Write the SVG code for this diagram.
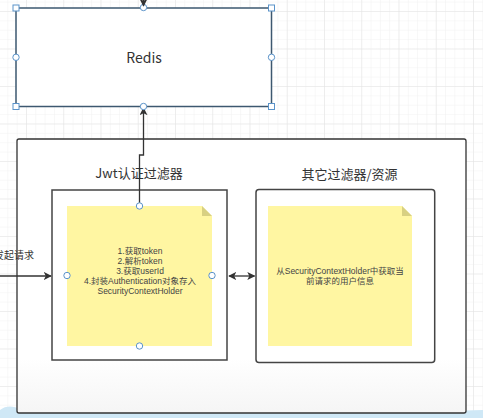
<svg xmlns="http://www.w3.org/2000/svg" width="483" height="418" viewBox="0 0 483 418">
<defs>
<pattern id="minor" x="-11.25" y="11" width="9.3125" height="9.375" patternUnits="userSpaceOnUse">
<path d="M0,0 V9.375 M0,0 H9.3125" stroke="#f1f1f1" stroke-width="1" fill="none"/>
</pattern>
<pattern id="major" x="-11.25" y="11" width="37.25" height="37.5" patternUnits="userSpaceOnUse">
<path d="M0,0 V37.5 M0,0 H37.25" stroke="#e3e3e3" stroke-width="1" fill="none"/>
</pattern>
<marker id="ah" viewBox="0 0 10 10" refX="9" refY="5" markerWidth="8" markerHeight="8" markerUnits="userSpaceOnUse" orient="auto-start-reverse">
<path d="M0,0 L10,5 L0,10 L2.5,5 Z" fill="#333"/>
</marker>
<linearGradient id="shade" x1="0" y1="0" x2="0" y2="1">
<stop offset="0" stop-color="#ffffff"/>
<stop offset="0.8" stop-color="#ffffff"/>
<stop offset="1" stop-color="#f5f5f5"/>
</linearGradient>
</defs>
<style>
.t{font-family:"Noto Sans CJK SC","Noto Sans",sans-serif;fill:#333;text-anchor:middle}
.title{font-size:13px}
.note{font-size:8.5px;fill:#444;font-family:"Liberation Sans","Noto Sans CJK SC",sans-serif}
.box{fill:#fff;stroke:#444;stroke-width:1.5}
.noteb{fill:#fff6a2}
.fold{fill:#d8d082}
.h{fill:#fff;stroke:#5b93c9;stroke-width:1}
.c{stroke:#333;stroke-width:1.3;fill:none}
</style>
<rect width="483" height="418" fill="#fff"/>
<rect width="483" height="418" fill="url(#minor)"/>
<rect width="483" height="418" fill="url(#major)"/>
<path d="M0,418 L0,410 C6,405 14,406 20,409 C40,410 70,412 95,410 C105,404 120,402 130,409 C160,412 190,411 205,410 C225,406 250,407 270,411 C300,412 320,411 335,410 C345,404 365,403 378,410 C410,412 440,411 483,410 L483,418 Z" fill="#cfe8f6"/>
<g id="outer">
<rect x="17" y="139" width="449" height="274" rx="2" fill="url(#shade)" stroke="#333" stroke-width="1.3"/>
</g>
<g id="redis">
<rect x="16" y="8" width="255.5" height="98.5" fill="#fff" stroke="#3d5870" stroke-width="1.5"/>
<text class="t" x="144" y="63" font-size="14" font-family="'Noto Sans','Liberation Sans',sans-serif">Redis</text>
<rect class="h" x="13" y="5" width="6" height="6"/>
<rect class="h" x="268.5" y="5" width="6" height="6"/>
<rect class="h" x="13" y="103.5" width="6" height="6"/>
<rect class="h" x="268.5" y="103.5" width="6" height="6"/>
<circle class="h" cx="143.5" cy="7.5" r="3.2"/>
<circle class="h" cx="16" cy="57.3" r="3.2"/>
<circle class="h" cx="271.5" cy="57.3" r="3.2"/>
</g>
<g id="jwt">
<text class="t title" x="139" y="178">Jwt认证过滤器</text>
<rect class="box" x="52" y="190" width="175" height="170"/>
<path class="noteb" d="M67,206 H202 L212,216 V346 H67 Z"/>
<path class="fold" d="M202,206 L212,216 H202 Z"/>
<text class="t note" x="140" y="253.5"><tspan x="140" y="253.5">1.获取token</tspan><tspan x="140" dy="10">2.解析token</tspan><tspan x="140" dy="10">3.获取userId</tspan><tspan x="140" dy="10">4.封装Authentication对象存入</tspan><tspan x="140" dy="10">SecurityContextHolder</tspan></text>
</g>
<g id="other">
<text class="t title" x="349.5" y="178.5">其它过滤器/资源</text>
<rect class="box" x="256" y="189.5" width="178.7" height="173" rx="3"/>
<path class="noteb" d="M268,206 H402 L412,216 V346 H268 Z"/>
<path class="fold" d="M402,206 L412,216 H402 Z"/>
<text class="t note" x="340" y="273.5"><tspan x="340" y="273.5">从SecurityContextHolder中获取当</tspan><tspan x="340" dy="10.5">前请求的用户信息</tspan></text>
</g>
<g id="connectors">
<path class="c" d="M143.5,-10 V6" marker-end="url(#ah)"/>
<path class="c" d="M139.5,206 V155 H143.5 V108" marker-end="url(#ah)"/>
<path class="c" d="M0,276 H51" marker-end="url(#ah)"/>
<path class="c" d="M229,276 H254.5" marker-start="url(#ah)" marker-end="url(#ah)"/>
<text class="t" x="34" y="259" font-size="10" style="text-anchor:end">发起请求</text>
</g>
<g id="note-handles">
<circle class="h" cx="139.5" cy="206" r="3.2"/>
<circle class="h" cx="67" cy="275.5" r="3.2"/>
<circle class="h" cx="212" cy="275.5" r="3.2"/>
<circle class="h" cx="139.5" cy="346" r="3.2"/>
<circle class="h" cx="143.5" cy="106.5" r="3.2"/>
</g>
</svg>
